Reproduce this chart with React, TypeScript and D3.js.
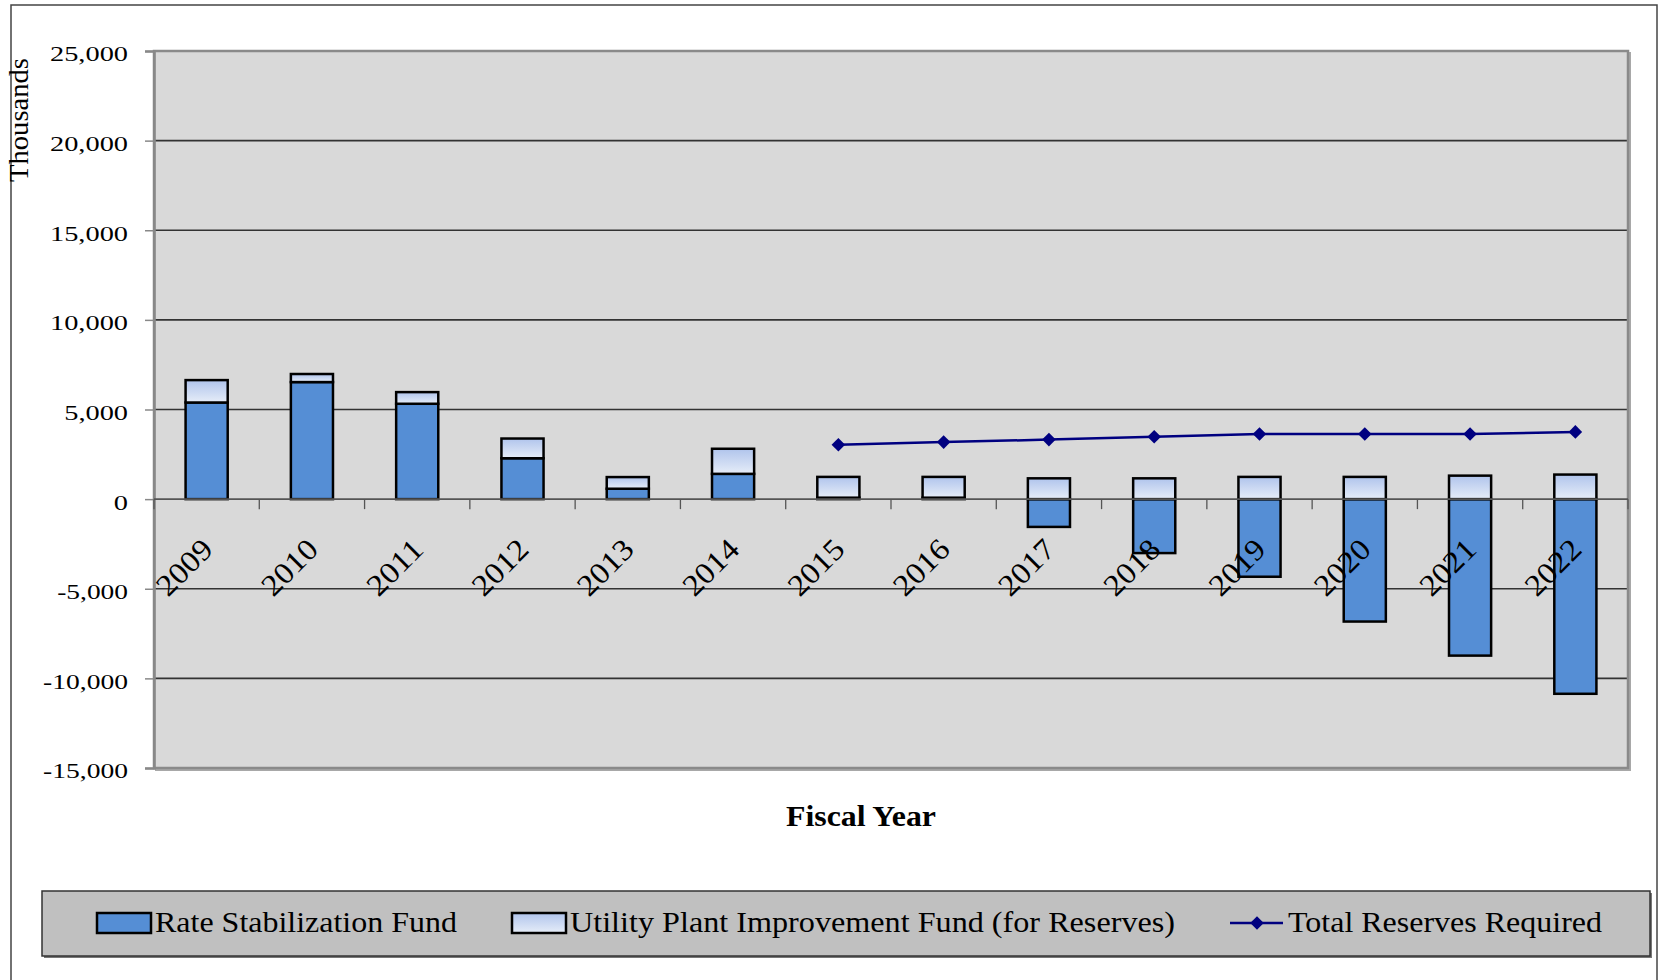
import * as d3 from "d3";
import React, { useEffect, useRef } from 'react'

const years = ['2009', '2010', '2011', '2012', '2013', '2014', '2015', '2016', '2017', '2018', '2019', '2020', '2021', '2022']
const rateStabilizationFund = [5390, 6530, 5320, 2280, 580, 1410, 80, 80, -1550, -3010, -4330, -6830, -8730, -10860]
const utilityPlantFund = [1250, 450, 650, 1100, 650, 1400, 1160, 1160, 1160, 1160, 1240, 1240, 1310, 1370]
const totalReservesRequired: (number | null)[] = [null, null, null, null, null, null, 3030, 3180, 3320, 3480, 3630, 3630, 3630, 3750]
const yTicks = [-15000, -10000, -5000, 0, 5000, 10000, 15000, 20000, 25000]

const seriesNames = ['Rate Stabilization Fund', 'Utility Plant Improvement Fund (for Reserves)', 'Total Reserves Required']

const FONT = '"Liberation Serif", "Times New Roman", serif'

const fmt = (v: number) => d3.format(',')(v).replace('\u2212', '-')
// numbers in the source are drawn with wide digits, so stretch them a bit
const numWidth = (s: string) => s.split('').reduce((w, c) => w + (c === ',' ? 7 : c === '-' ? 7 : 14.2), 0)

const drawChart = (el: SVGSVGElement) => {
  const width = 1661
  const height = 980
  const left = 154, right = 1628, top = 51, bottom = 768

  const svg = d3.select(el)
    .attr('width', width)
    .attr('height', height)
    .attr('viewBox', `0 0 ${width} ${height}`)
    .style('font-family', FONT)

  svg.selectAll('*').remove()

  const defs = svg.append('defs')
  const grad = defs.append('linearGradient')
    .attr('id', 'upifGrad')
    .attr('x1', 0).attr('y1', 0).attr('x2', 0).attr('y2', 1)
  grad.append('stop').attr('offset', '0%').attr('stop-color', '#b0c4ec')
  grad.append('stop').attr('offset', '100%').attr('stop-color', '#e6edf8')

  svg.append('rect')
    .attr('width', width).attr('height', height).attr('fill', '#fff')

  // outer frame
  svg.append('rect')
    .attr('x', 11).attr('y', 5)
    .attr('width', 1646).attr('height', 1000)
    .attr('fill', 'none')
    .attr('stroke', '#444')
    .attr('stroke-width', 1.5)

  const xScale = d3.scaleBand<string>()
    .domain(years)
    .range([left, right])
    .paddingInner(0.6)
    .paddingOuter(0.3)

  const yScale = d3.scaleLinear()
    .domain([-15000, 25000])
    .range([bottom, top])

  // plot area with shadow
  svg.append('rect')
    .attr('x', left + 2).attr('y', top + 2)
    .attr('width', right - left).attr('height', bottom - top)
    .attr('fill', 'none').attr('stroke', '#a8a8a8').attr('stroke-width', 2)
  svg.append('rect')
    .attr('x', left).attr('y', top)
    .attr('width', right - left).attr('height', bottom - top)
    .attr('fill', '#d9d9d9')

  // gridlines
  svg.append('g')
    .selectAll('line')
    .data(yTicks.filter(t => t !== 25000 && t !== -15000 && t !== 0))
    .enter()
    .append('line')
    .attr('x1', left).attr('x2', right)
    .attr('y1', d => yScale(d)).attr('y2', d => yScale(d))
    .attr('stroke', '#333')
    .attr('stroke-width', 1.6)

  svg.append('rect')
    .attr('x', left).attr('y', top)
    .attr('width', right - left).attr('height', bottom - top)
    .attr('fill', 'none').attr('stroke', '#8a8a8a').attr('stroke-width', 2.5)

  // y axis
  const yAxis = d3.axisLeft(yScale)
    .tickValues(yTicks)
    .tickSize(9)
    .tickPadding(17)
    .tickFormat(d => fmt(d as number))

  const yg = svg.append('g')
    .attr('transform', `translate(${left},0)`)
    .call(yAxis)
  yg.select('.domain').attr('stroke', '#888').attr('stroke-width', 2.5)
  yg.selectAll('.tick line').attr('stroke', '#888').attr('stroke-width', 1.5)
  yg.selectAll('.tick text')
    .attr('font-family', FONT)
    .attr('font-size', 22)
    .attr('fill', '#000')
    .attr('dy', '0.45em')
    .attr('textLength', d => numWidth(fmt(d as number)))
    .attr('lengthAdjust', 'spacingAndGlyphs')

  // bars
  const rows = years.map((y, i) => ({ year: y, rsf: rateStabilizationFund[i], upif: utilityPlantFund[i] }))
  const stack = d3.stack<any>()
    .keys(['rsf', 'upif'])
    .offset(d3.stackOffsetDiverging)
  const layers = stack(rows)
  const fills = ['#558ed5', 'url(#upifGrad)']

  const layer = svg.selectAll('g.layer')
    .data(layers)
    .enter()
    .append('g')
    .attr('class', 'layer')
    .attr('fill', (d, i) => fills[i])

  layer.selectAll('rect')
    .data(d => d)
    .enter()
    .append('rect')
    .attr('x', d => xScale(d.data.year) as number)
    .attr('width', xScale.bandwidth())
    .attr('y', d => yScale(Math.max(d[0], d[1])))
    .attr('height', d => Math.abs(yScale(d[0]) - yScale(d[1])))
    .attr('stroke', '#000')
    .attr('stroke-width', 2.5)

  // x axis at zero
  const zeroY = yScale(0)
  svg.append('line')
    .attr('x1', left).attr('x2', right)
    .attr('y1', zeroY).attr('y2', zeroY)
    .attr('stroke', '#555').attr('stroke-width', 1.6)

  const step = xScale.step()
  svg.append('g')
    .selectAll('line')
    .data(d3.range(years.length + 1))
    .enter()
    .append('line')
    .attr('x1', k => left + k * step).attr('x2', k => left + k * step)
    .attr('y1', zeroY).attr('y2', zeroY + 10)
    .attr('stroke', '#555').attr('stroke-width', 1.3)

  svg.append('g')
    .selectAll('text')
    .data(years)
    .enter()
    .append('text')
    .attr('transform', d => {
      const cx = (xScale(d) as number) + xScale.bandwidth() / 2
      return `translate(${cx + 8},${zeroY + 52}) rotate(-45)`
    })
    .attr('text-anchor', 'end')
    .attr('font-size', 30)
    .attr('textLength', 66)
    .attr('lengthAdjust', 'spacingAndGlyphs')
    .attr('fill', '#000')
    .text(d => d)

  // total reserves line
  const lineData = years
    .map((y, i) => ({ year: y, v: totalReservesRequired[i] }))
    .filter(d => d.v !== null) as { year: string, v: number }[]

  const line = d3.line<{ year: string, v: number }>()
    .x(d => (xScale(d.year) as number) + xScale.bandwidth() / 2)
    .y(d => yScale(d.v))

  svg.append('path')
    .datum(lineData)
    .attr('d', line)
    .attr('fill', 'none')
    .attr('stroke', '#000080')
    .attr('stroke-width', 2.5)

  const diamond = d3.symbol().type(d3.symbolSquare).size(92)
  svg.append('g')
    .selectAll('path')
    .data(lineData)
    .enter()
    .append('path')
    .attr('d', diamond)
    .attr('transform', d => `translate(${(xScale(d.year) as number) + xScale.bandwidth() / 2},${yScale(d.v)}) rotate(45)`)
    .attr('fill', '#000080')

  // axis titles
  svg.append('text')
    .attr('x', 861).attr('y', 826)
    .attr('text-anchor', 'middle')
    .attr('font-size', 29)
    .attr('font-weight', 'bold')
    .attr('textLength', 150)
    .attr('lengthAdjust', 'spacingAndGlyphs')
    .text('Fiscal Year')

  svg.append('text')
    .attr('transform', 'translate(28,120) rotate(-90)')
    .attr('text-anchor', 'middle')
    .attr('font-size', 27)
    .attr('textLength', 124)
    .attr('lengthAdjust', 'spacingAndGlyphs')
    .text('Thousands')

  // legend
  svg.append('rect')
    .attr('x', 44).attr('y', 893)
    .attr('width', 1608).attr('height', 65)
    .attr('fill', '#777')
  svg.append('rect')
    .attr('x', 42).attr('y', 891)
    .attr('width', 1608).attr('height', 65)
    .attr('fill', '#c0c0c0')
    .attr('stroke', '#333')
    .attr('stroke-width', 1.5)

  const legY = 923
  const swatches = [
    { x: 97, fill: '#558ed5', tx: 155, tw: 302 },
    { x: 512, fill: 'url(#upifGrad)', tx: 570, tw: 605 },
  ]
  swatches.forEach((s, i) => {
    svg.append('rect')
      .attr('x', s.x).attr('y', legY - 10)
      .attr('width', 54).attr('height', 20)
      .attr('fill', s.fill)
      .attr('stroke', '#000')
      .attr('stroke-width', 2.5)
    svg.append('text')
      .attr('x', s.tx).attr('y', legY + 9)
      .attr('font-size', 29.5)
      .attr('textLength', s.tw)
      .attr('lengthAdjust', 'spacingAndGlyphs')
      .text(seriesNames[i])
  })

  svg.append('line')
    .attr('x1', 1230).attr('x2', 1283)
    .attr('y1', legY).attr('y2', legY)
    .attr('stroke', '#000080').attr('stroke-width', 2.5)
  svg.append('path')
    .attr('d', diamond)
    .attr('transform', `translate(1257,${legY}) rotate(45)`)
    .attr('fill', '#000080')
  svg.append('text')
    .attr('x', 1288).attr('y', legY + 9)
    .attr('font-size', 29.5)
    .attr('textLength', 314)
    .attr('lengthAdjust', 'spacingAndGlyphs')
    .text(seriesNames[2])
}

export default function App() {
  const ref = useRef<SVGSVGElement>(null)

  useEffect(() => {
    if (ref.current) drawChart(ref.current)
  }, [])

  return (
    <svg ref={ref} style={{ position: 'absolute', left: 0, top: 0, display: 'block' }} />
  )
}
